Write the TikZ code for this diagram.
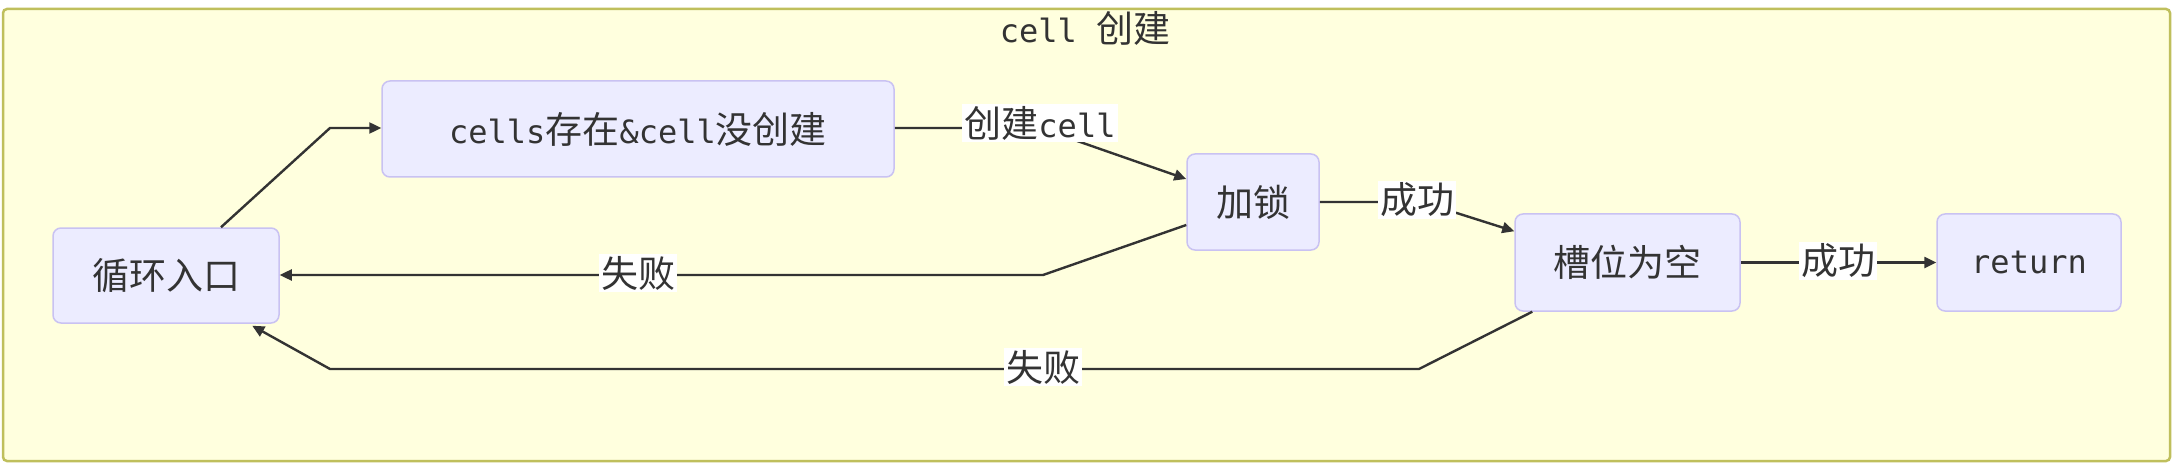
\documentclass[tikz,border=0pt]{standalone}
\usepackage{fontspec}
\setmainfont{DejaVu Sans Mono}
\newfontfamily\cjk{Noto Sans CJK SC}
\usetikzlibrary{arrows.meta}
\newcommand\zh[1]{{\cjk\fontsize{37}{42}\selectfont #1}}
\definecolor{framefill}{HTML}{FFFFDE}
\definecolor{frameline}{HTML}{BFBF5C}
\definecolor{nodefill}{HTML}{ECECFF}
\definecolor{nodeline}{HTML}{C9C2F2}
\definecolor{edgecol}{HTML}{333333}
\definecolor{txt}{HTML}{333333}
\tikzset{
  box/.style={draw=nodeline, fill=nodefill, line width=1.5pt, rounded corners=8pt,
    inner sep=0pt, text=txt, font=\fontsize{32}{38}\selectfont},
  lbl/.style={fill=white, inner sep=2pt, text=txt, font=\fontsize{32}{38}\selectfont},
  edge/.style={draw=edgecol, line width=2.4pt, -{Triangle[length=12pt,width=11pt]}},
}
\begin{document}
\begin{tikzpicture}[x=1pt,y=-1pt]
\useasboundingbox (0,0) rectangle (2181,465);
\draw[draw=frameline, fill=framefill, line width=2.5pt, rounded corners=4pt] (3,9) rectangle (2170,461);
\node[text=txt, font=\fontsize{32}{38}\selectfont] (title) at (1085,28) {cell \zh{创建}};

\node[box, minimum width=226pt, minimum height=95pt] (entry) at (166,275.5) {\zh{循环入口}};
\node[box, minimum width=512pt, minimum height=96pt] (cells) at (638,129) {cells\zh{存在}\&cell\zh{没创建}};
\node[box, minimum width=132pt, minimum height=96pt] (lock) at (1253,202) {\zh{加锁}};
\node[box, minimum width=225pt, minimum height=97pt] (slot) at (1627.5,262.5) {\zh{槽位为空}};
\node[box, minimum width=184pt, minimum height=97pt] (ret) at (2029,262.5) {return};

\coordinate (b1) at (330,128);
\coordinate (b2) at (1040,128);
\coordinate (b3) at (1422,202);
\coordinate (b4) at (1043,275);
\coordinate (b5) at (1419,369);
\coordinate (b6) at (330,369);

\draw[edge] ([xshift=55pt]entry.north) -- (b1) -- (cells.west |- b1);
\draw[edge] (cells.east |- b2) -- (b2) -- ([yshift=23pt]lock.west);
\draw[edge] (lock.east) -- (b3) -- ([yshift=-18pt]slot.north west);
\draw[edge] (slot.east) -- (ret.west);
\draw[edge] ([yshift=-23pt]lock.west) -- (b4) -- (entry.east |- b4);
\draw[edge] ([xshift=18pt]slot.south west) -- (b5) -- (b6) -- ([xshift=200pt,yshift=-2pt]entry.south west);

\node[lbl] (l1) at (1040,123) {\zh{创建}cell};
\node[lbl] (l2) at (1417,200) {\zh{成功}};
\node[lbl] (l3) at (1838,261) {\zh{成功}};
\node[lbl] (l4) at (638,273) {\zh{失败}};
\node[lbl] (l5) at (1043,367) {\zh{失败}};
\end{tikzpicture}
\end{document}
